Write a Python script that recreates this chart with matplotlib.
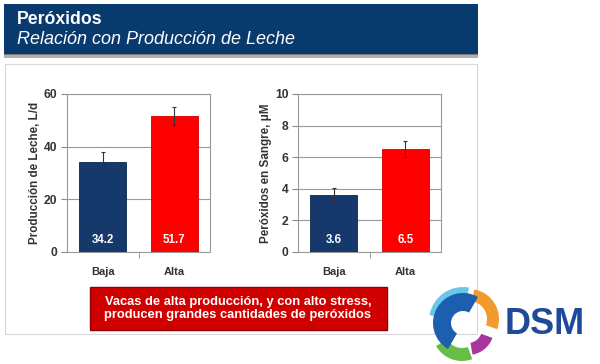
import numpy as np
import matplotlib
matplotlib.use('Agg')
import matplotlib.pyplot as plt
from matplotlib.patches import Rectangle, Wedge, Circle

plt.rcParams['font.family'] = ['Liberation Sans', 'DejaVu Sans']

categorias = ['Baja', 'Alta']
leche = [34.2, 51.7]
leche_err = [3.6, 3.4]
peroxidos = [3.6, 6.5]
peroxidos_err = [0.45, 0.5]
colores = ['#15396b', '#ff0000']

titulo = 'Peróxidos'
subtitulo = 'Relación con Producción de Leche'
nota = 'Vacas de alta producción, y con alto stress,\nproducen grandes cantidades de peróxidos'

W, H = 600, 364
fig = plt.figure(figsize=(6, 3.64), dpi=100)
fig.patch.set_facecolor('white')

# fondo en pixeles para la decoracion de la diapositiva
bg = fig.add_axes([0, 0, 1, 1])
bg.set_xlim(0, W)
bg.set_ylim(H, 0)
bg.axis('off')

bg.add_patch(Rectangle((5, 64), 472, 270, facecolor='white', edgecolor='#d8d8d8', lw=0.8))
bg.add_patch(Rectangle((4, 53), 474, 5, facecolor='#b0b0b0', edgecolor='none'))
bg.add_patch(Rectangle((4, 53), 474, 2, facecolor='#7a7a7a', edgecolor='none'))
bg.add_patch(Rectangle((4, 4), 474, 50, facecolor='#083a6e', edgecolor='none'))
bg.text(17, 20, titulo, color='white', fontsize=12.7, fontweight='bold', va='center')
bg.text(17, 39, subtitulo, color='white', fontsize=13, style='italic', va='center')

bg.add_patch(Rectangle((90, 287), 297, 43, facecolor='#d10000', edgecolor='#8f0000', lw=1))
bg.text(238, 308.5, nota, color='white', fontsize=9.3, fontweight='bold',
        ha='center', va='center', linespacing=1.2)

# logo DSM aproximado
cx, cy = 465, 323
bg.add_patch(Wedge((cx - 2, cy - 2), 34, 190, 280, width=10, facecolor='#6cc6ea', edgecolor='none'))
bg.add_patch(Wedge((cx + 4, cy - 4), 30, 280, 20, width=12, facecolor='#f39a2e', edgecolor='none'))
bg.add_patch(Wedge((cx + 3, cy + 6), 26, 20, 80, width=12, facecolor='#a8359e', edgecolor='none'))
bg.add_patch(Wedge((cx - 3, cy + 8), 30, 70, 150, width=13, facecolor='#67bd45', edgecolor='none'))
bg.add_patch(Wedge((cx - 2, cy), 30, 120, 300, width=18, facecolor='#1c5fae', edgecolor='none'))
bg.add_patch(Circle((cx, cy + 1), 7, facecolor='white', edgecolor='none'))
bg.text(505, 325, 'DSM', color='#1f4a9a', fontsize=26, fontweight='bold', va='center')


def panel(left, datos, err, ymax, paso, ylabel):
    ax = fig.add_axes([left / W, (H - 252) / H, 143 / W, 158 / H])
    x = np.arange(len(categorias))
    ax.bar(x, datos, width=0.66, color=colores, edgecolor=['#0c2548', '#d00000'], lw=0.6, zorder=3)
    ax.errorbar(x, datos, yerr=err, fmt='none', ecolor='#333333', elinewidth=0.8,
                capsize=1.5, capthick=0.8, zorder=4)
    for xi, v in zip(x, datos):
        ax.annotate(str(v), (xi, 0), xytext=(0, 8.5), textcoords='offset points',
                    ha='center', va='center', color='white', fontsize=8.3, fontweight='bold', zorder=5)
    ax.set_xlim(-0.5, 1.5)
    ax.set_ylim(0, ymax)
    ax.set_yticks(np.arange(0, ymax + paso / 2, paso))
    ax.yaxis.grid(True, color='#9a9a9a', lw=0.8)
    ax.set_axisbelow(True)
    ax.set_xticks(x)
    ax.set_xticklabels(categorias)
    ax.set_xticks([0.5], minor=True)
    ax.tick_params(axis='x', which='major', length=0, pad=11, labelsize=8, labelcolor='#333333')
    ax.tick_params(axis='x', which='minor', length=4, color='#888888', direction='out')
    ax.tick_params(axis='y', length=4, color='#888888', labelsize=8.7, labelcolor='#333333', pad=3)
    for lbl in ax.get_xticklabels() + ax.get_yticklabels():
        lbl.set_fontweight('bold')
    for s in ax.spines.values():
        s.set_color('#9a9a9a')
        s.set_linewidth(0.8)
    ax.set_ylabel(ylabel, fontsize=8.4, fontweight='bold', color='#333333', labelpad=2)
    return ax


panel(67, leche, leche_err, 60, 20, 'Producción de Leche, L/d')
panel(298, peroxidos, peroxidos_err, 10, 2, 'Peróxidos en Sangre, μM')

plt.savefig('out.png', dpi=100)
